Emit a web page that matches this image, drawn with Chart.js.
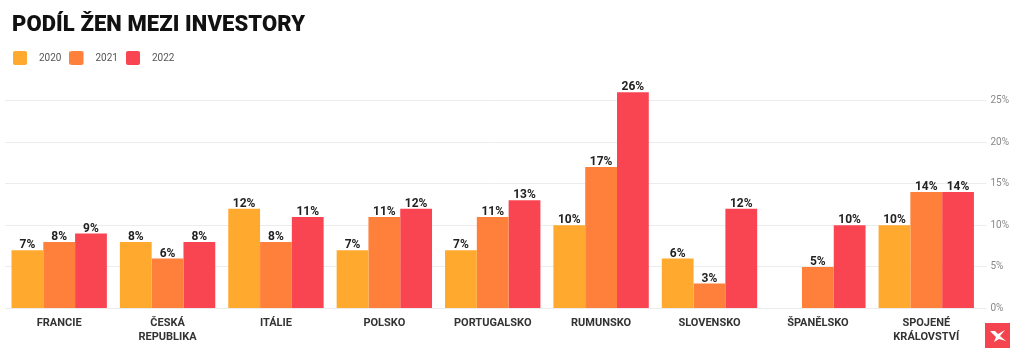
<!DOCTYPE html>
<html>
<head>
<meta charset="utf-8">
<script src="https://cdn.jsdelivr.net/npm/chart.js@4.4.1/dist/chart.umd.min.js"></script>
<style>
  html, body { margin: 0; padding: 0; background: #fff; }
  #wrap { position: relative; width: 1024px; height: 357px; overflow: hidden; }
  #title { position: absolute; left: 12px; top: 13px; margin: 0; font-family: Roboto, "Noto Sans", sans-serif; font-weight: 900; font-size: 22px; line-height: 22px; color: #111; letter-spacing: 0.1px; }
  canvas { position: absolute; left: 0; top: 0; }
</style>
</head>
<body>
<div id="wrap">
  <canvas id="c" width="1024" height="357"></canvas>
  <h1 id="title">PODÍL ŽEN MEZI INVESTORY</h1>
</div>
<script>
const categories = [
  ['FRANCIE'],
  ['ČESKÁ', 'REPUBLIKA'],
  ['ITÁLIE'],
  ['POLSKO'],
  ['PORTUGALSKO'],
  ['RUMUNSKO'],
  ['SLOVENSKO'],
  ['ŠPANĚLSKO'],
  ['SPOJENÉ', 'KRÁLOVSTVÍ']
];
const seriesNames = ['2020', '2021', '2022'];
const values2020 = [7, 8, 12, 7, 7, 10, 6, null, 10];
const values2021 = [8, 6, 8, 11, 11, 17, 3, 5, 14];
const values2022 = [9, 8, 11, 12, 13, 26, 12, 10, 14];
const yTicks = [0, 5, 10, 15, 20, 25];

const colors = ['#FFA92F', '#FF803A', '#F94452'];

function legendIcon(color) {
  const c = document.createElement('canvas');
  c.width = 21; c.height = 14;
  const ctx = c.getContext('2d');
  ctx.fillStyle = color;
  ctx.beginPath();
  ctx.roundRect(0, 0, 14, 14, 2);
  ctx.fill();
  return c;
}
const legendIcons = colors.map(legendIcon);

const barLabels = {
  id: 'barLabels',
  afterDatasetsDraw(chart) {
    const ctx = chart.ctx;
    ctx.save();
    ctx.font = 'bold 12px Roboto, "Noto Sans", sans-serif';
    ctx.fillStyle = '#222';
    ctx.textAlign = 'center';
    ctx.textBaseline = 'alphabetic';
    chart.data.datasets.forEach((ds, di) => {
      const meta = chart.getDatasetMeta(di);
      meta.data.forEach((el, i) => {
        const v = ds.data[i];
        if (v === null || v === undefined) return;
        ctx.fillText(v + '%', el.x, el.y - 2);
      });
    });
    ctx.restore();
  }
};

const logo = {
  id: 'logo',
  afterDraw(chart) {
    const ctx = chart.ctx;
    ctx.save();
    const x = 985, y = 323, s = 25;
    ctx.fillStyle = '#F3444F';
    ctx.fillRect(x, y, s, s);
    ctx.fillStyle = '#fff';
    ctx.beginPath();
    ctx.moveTo(x + 5, y + 8);
    ctx.lineTo(x + 10, y + 8);
    ctx.lineTo(x + 13, y + 11);
    ctx.lineTo(x + 20, y + 7);
    ctx.lineTo(x + 15, y + 13);
    ctx.lineTo(x + 21, y + 18);
    ctx.lineTo(x + 14, y + 16);
    ctx.lineTo(x + 9, y + 19);
    ctx.lineTo(x + 11, y + 14);
    ctx.closePath();
    ctx.fill();
    ctx.restore();
  }
};

new Chart(document.getElementById('c'), {
  type: 'bar',
  data: {
    labels: categories,
    datasets: [
      { label: seriesNames[0], data: values2020, backgroundColor: colors[0] },
      { label: seriesNames[1], data: values2021, backgroundColor: colors[1] },
      { label: seriesNames[2], data: values2022, backgroundColor: colors[2] }
    ]
  },
  options: {
    responsive: false,
    animation: false,
    devicePixelRatio: 1,
    layout: { padding: { top: 45, left: 5, right: 11, bottom: 5 } },
    datasets: { bar: { categoryPercentage: 0.88, barPercentage: 1.0, borderWidth: 0 } },
    plugins: {
      title: { display: false },
      tooltip: { enabled: false },
      legend: {
        display: true,
        position: 'top',
        align: 'start',
        labels: {
          usePointStyle: true,
          pointStyleWidth: 21,
          padding: 8,
          color: '#555',
          font: { family: 'Roboto, "Noto Sans", sans-serif', size: 10 },
          generateLabels(chart) {
            const items = Chart.defaults.plugins.legend.labels.generateLabels(chart);
            items.forEach((it, i) => { it.pointStyle = legendIcons[i]; });
            return items;
          }
        }
      }
    },
    scales: {
      x: {
        grid: { display: false, drawTicks: false },
        border: { display: false },
        ticks: {
          padding: 8,
          color: '#333',
          maxRotation: 0,
          autoSkip: false,
          font: { family: 'Roboto, "Noto Sans", sans-serif', size: 11, weight: 'bold', lineHeight: 1.25 }
        }
      },
      y: {
        position: 'right',
        min: 0,
        max: 28.3,
        afterBuildTicks(scale) { scale.ticks = yTicks.map(v => ({ value: v })); },
        grid: { color: '#ececec', lineWidth: 1, tickLength: 6, drawTicks: true },
        border: { display: false },
        ticks: {
          padding: 4,
          color: '#888',
          font: { family: 'Roboto, "Noto Sans", sans-serif', size: 10 },
          callback: v => v + '%'
        }
      }
    }
  },
  plugins: [barLabels, logo]
});
</script>
</body>
</html>
